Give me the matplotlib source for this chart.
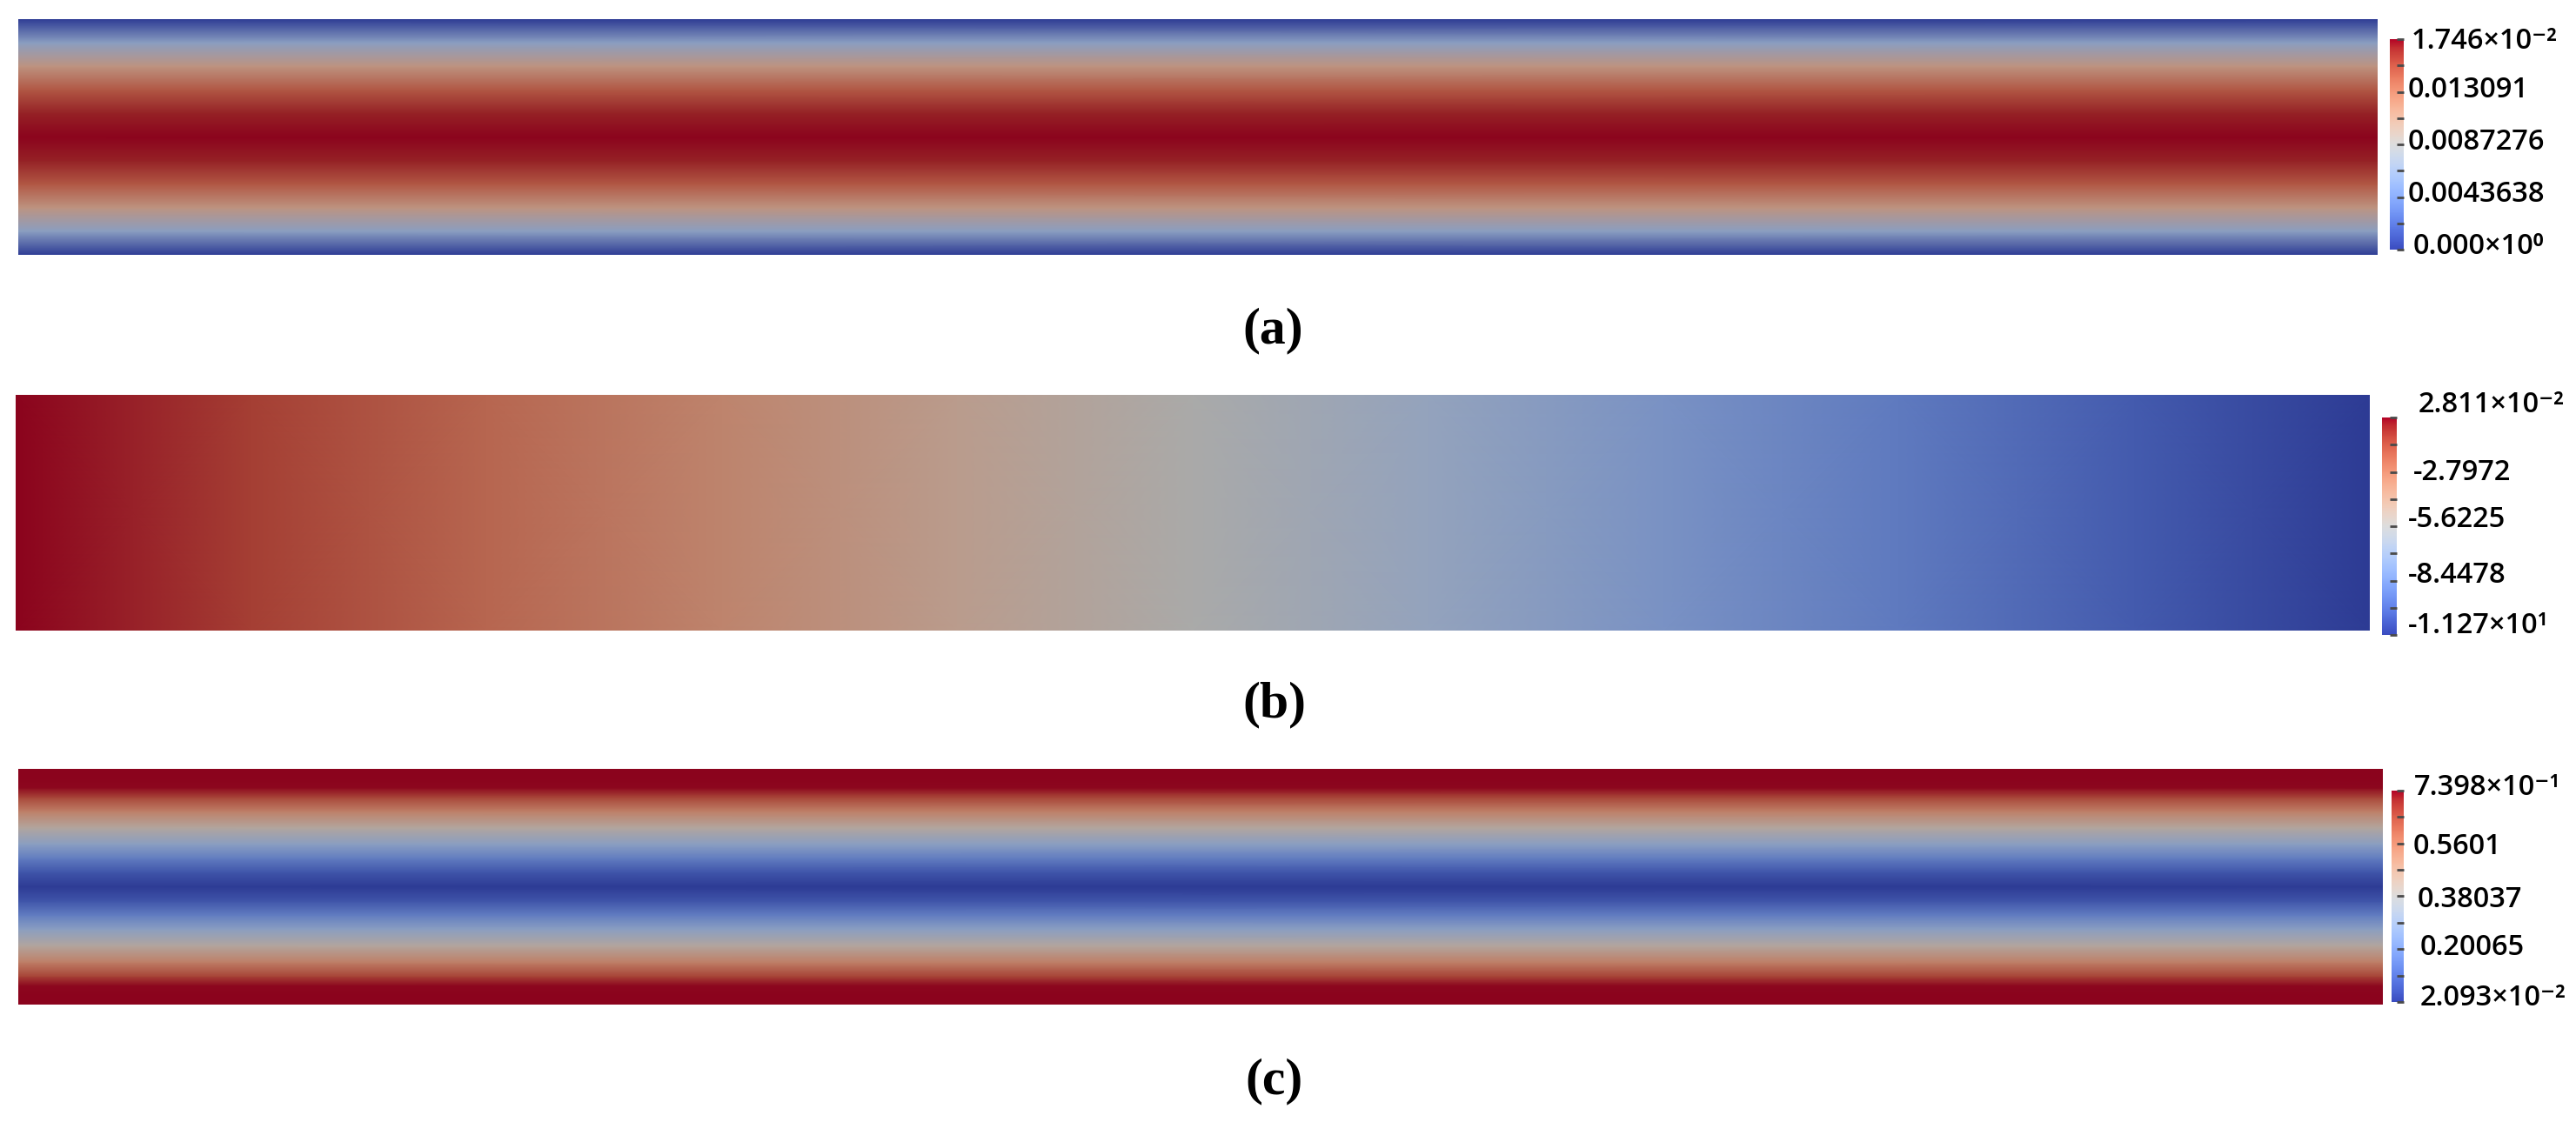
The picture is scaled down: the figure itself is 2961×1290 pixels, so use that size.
import matplotlib
matplotlib.use('Agg')
import matplotlib.pyplot as plt
import matplotlib.cm as cm
from matplotlib.colors import ListedColormap, Normalize
import numpy as np

# (a) velocity profile across the channel height
a_y = [0.0, 0.1, 0.2, 0.3, 0.4, 0.5, 0.6, 0.7, 0.8, 0.9, 1.0]
a_val = [0.0, 0.0063, 0.0112, 0.0147, 0.0168, 0.01746, 0.0168, 0.0147, 0.0112, 0.0063, 0.0]
a_ticks = [0.0, 0.0043638, 0.0087276, 0.013091, 0.01746]
a_labels = ['0.000×10⁰', '0.0043638', '0.0087276', '0.013091', '1.746×10⁻²']

# (b) pressure along the channel length
b_x = [0.0, 0.1, 0.2, 0.3, 0.4, 0.5, 0.6, 0.7, 0.8, 0.9, 1.0]
b_val = [0.02811, -1.10, -2.23, -3.36, -4.49, -5.62, -6.75, -7.88, -9.01, -10.14, -11.27]
b_ticks = [-11.27, -8.4478, -5.6225, -2.7972, 0.02811]
b_labels = ['-1.127×10¹', '-8.4478', '-5.6225', '-2.7972', '2.811×10⁻²']

# (c) profile across the channel height
c_y = [0.0, 0.04, 0.08, 0.12, 0.18, 0.25, 0.32, 0.38, 0.44, 0.5,
       0.56, 0.62, 0.68, 0.75, 0.82, 0.88, 0.92, 0.96, 1.0]
c_val = [0.7398, 0.7398, 0.735, 0.66, 0.54, 0.41, 0.28, 0.17, 0.075, 0.02093,
         0.075, 0.17, 0.28, 0.41, 0.54, 0.66, 0.735, 0.7398, 0.7398]
c_ticks = [0.02093, 0.20065, 0.38037, 0.5601, 0.7398]
c_labels = ['2.093×10⁻²', '0.20065', '0.38037', '0.5601', '7.398×10⁻¹']

captions = ['(a)', '(b)', '(c)']

# ---- layout (figure pixels, origin top-left) ----
W, H = 2961, 1290
field_box = [(21, 22, 2733, 293), (18, 454, 2724, 725), (21, 884, 2739, 1155)]
bar_box = [(2747, 45, 2763, 287), (2738, 480, 2755, 730), (2749, 909, 2763, 1152)]
label_dx = [[11, 5, 5, 5, 9], [13, 13, 13, 19, 25], [19, 19, 16, 11, 12]]
label_dy = [[4, 3, 3, 2, -2], [11, 6, 8, -1, 15], [4, 2, -4, -4, 4]]
caption_xy = [(1463, 380), (1465, 810), (1465, 1243)]

# field colours: cool-to-warm with shading
base = plt.get_cmap('coolwarm')(np.linspace(0, 1, 256))
base[:, :3] *= 0.77
field_cmap = ListedColormap(base)


def rect(box):
    x0, y0, x1, y1 = box
    return [x0 / W, 1 - y1 / H, (x1 - x0) / W, (y1 - y0) / H]


fig = plt.figure(figsize=(W / 100, H / 100), dpi=100)

fields = []
# (a)
X, Y = np.meshgrid([0.0, 1.0], a_y)
fields.append((X, Y, np.tile(np.array(a_val)[:, None], (1, 2)), a_ticks, a_labels))
# (b)
X, Y = np.meshgrid(b_x, [0.0, 1.0])
fields.append((X, Y, np.tile(np.array(b_val)[None, :], (2, 1)), b_ticks, b_labels))
# (c)
X, Y = np.meshgrid([0.0, 1.0], c_y)
fields.append((X, Y, np.tile(np.array(c_val)[:, None], (1, 2)), c_ticks, c_labels))

for i, (X, Y, C, ticks, labels) in enumerate(fields):
    norm = Normalize(vmin=ticks[0], vmax=ticks[-1])
    ax = fig.add_axes(rect(field_box[i]))
    ax.pcolormesh(X, Y, C, cmap=field_cmap, norm=norm, shading='gouraud')
    ax.set_xlim(0, 1)
    ax.set_ylim(0, 1)
    ax.axis('off')

    cax = fig.add_axes(rect(bar_box[i]))
    cb = fig.colorbar(cm.ScalarMappable(norm=norm, cmap='coolwarm'), cax=cax)
    cb.outline.set_visible(False)
    cb.set_ticks(ticks)
    mids = [(ticks[k] + ticks[k + 1]) / 2 for k in range(len(ticks) - 1)]
    cb.set_ticks(mids, minor=True)
    cax.tick_params(axis='y', which='both', direction='in', left=False, right=True,
                    length=6, width=2, color='#4a4a4a', labelright=False, labelleft=False)
    for k, (v, lab) in enumerate(zip(ticks, labels)):
        cax.annotate(lab, xy=(1, v), xycoords=cax.get_yaxis_transform(),
                     xytext=(label_dx[i][k], label_dy[i][k]), textcoords='offset pixels',
                     ha='left', va='center', fontsize=23.5, fontweight='semibold',
                     family=['Open Sans', 'DejaVu Sans'], color='black')

    fig.text(caption_xy[i][0] / W, 1 - caption_xy[i][1] / H, captions[i],
             ha='center', va='center', fontsize=43, fontweight='bold',
             family='Liberation Serif')

fig.savefig('out.png', dpi=100)
